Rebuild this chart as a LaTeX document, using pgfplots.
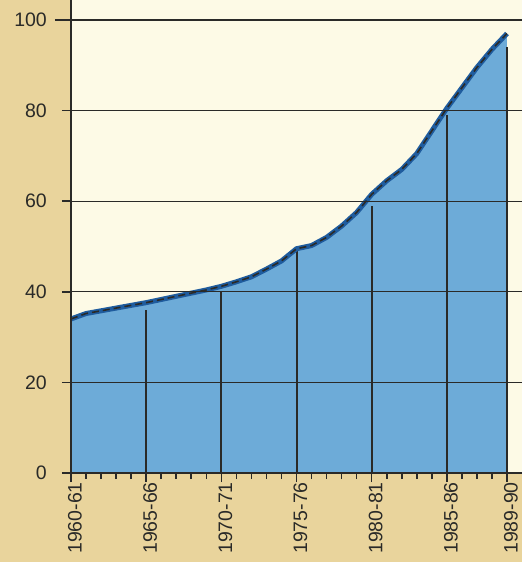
\documentclass[border=0pt]{standalone}
\usepackage{pgfplots}
\pgfplotsset{compat=1.18}
\usepackage{fontspec}
\setmainfont{Liberation Sans}
\definecolor{paper}{HTML}{E9D49C}
\definecolor{cream}{HTML}{FDFAE6}
\definecolor{areablue}{HTML}{6DABD8}
\definecolor{lineblue}{HTML}{1F5C9E}
\definecolor{ink}{HTML}{2A2A28}
\begin{document}
\begin{tikzpicture}[x=1pt,y=1pt]
\useasboundingbox (0,0) rectangle (522,562);
\fill[paper] (0,0) rectangle (522,562);
\begin{axis}[
  at={(71pt,89pt)}, anchor=south west,
  scale only axis, width=451pt, height=473pt,
  xmin=0, xmax=30, ymin=0, ymax=104.4,
  axis lines*=left,
  axis line style={ink, line width=1.4pt},
  axis background/.style={fill=cream},
  axis on top,
  /pgf/number format/assume math mode=true,
  ytick={0,20,40,60,80,100},
  ymajorgrids, grid style={ink, line width=1.2pt},
  xtick={0,5,10,15,20,25,29},
  xticklabels={1960-61,1965-66,1970-71,1975-76,1980-81,1985-86,1989-90},
  minor xtick={1,2,3,4,6,7,8,9,11,12,13,14,16,17,18,19,21,22,23,24,26,27,28},
  xtick align=outside, ytick align=outside,
  major tick length=9pt, minor tick length=6pt,
  every tick/.style={ink, line width=1.6pt},
  y tick style={ink, line width=1.6pt, shorten <=-7pt},
  xticklabel style={rotate=90, anchor=east, font=\fontsize{19.5}{19.5}\selectfont, text=ink, inner sep=0pt, yshift=-4pt},
  yticklabel style={font=\fontsize{19.5}{19.5}\selectfont, text=ink, inner sep=0pt, xshift=-15pt},
  xtick pos=bottom, ytick pos=left,
  clip=false,
]
\addplot[draw=none, fill=areablue] coordinates {
(0,34) (1,35.2) (2,35.8) (3,36.4) (4,37) (5,37.6) (6,38.3) (7,39) (8,39.7) (9,40.4)
(10,41.2) (11,42.2) (12,43.3) (13,45) (14,46.8) (15,49.5) (16,50.2) (17,52) (18,54.5) (19,57.5)
(20,61.5) (21,64.5) (22,67) (23,70.5) (24,75.5) (25,80.5) (26,85) (27,89.5) (28,93.5) (29,97)
} \closedcycle;
\addplot[ycomb, ink, line width=2pt, no marks] coordinates {
(5,36) (10,40) (15,49) (20,59) (25,79) (29,94)
};
\addplot[lineblue, line width=5pt, no marks] coordinates {
(0,34) (1,35.2) (2,35.8) (3,36.4) (4,37) (5,37.6) (6,38.3) (7,39) (8,39.7) (9,40.4)
(10,41.2) (11,42.2) (12,43.3) (13,45) (14,46.8) (15,49.5) (16,50.2) (17,52) (18,54.5) (19,57.5)
(20,61.5) (21,64.5) (22,67) (23,70.5) (24,75.5) (25,80.5) (26,85) (27,89.5) (28,93.5) (29,97)
};
\addplot[ink, line width=1.6pt, dash pattern=on 7pt off 4pt, no marks] coordinates {
(0,34) (1,35.2) (2,35.8) (3,36.4) (4,37) (5,37.6) (6,38.3) (7,39) (8,39.7) (9,40.4)
(10,41.2) (11,42.2) (12,43.3) (13,45) (14,46.8) (15,49.5) (16,50.2) (17,52) (18,54.5) (19,57.5)
(20,61.5) (21,64.5) (22,67) (23,70.5) (24,75.5) (25,80.5) (26,85) (27,89.5) (28,93.5) (29,97)
};
\end{axis}
\end{tikzpicture}
\end{document}
